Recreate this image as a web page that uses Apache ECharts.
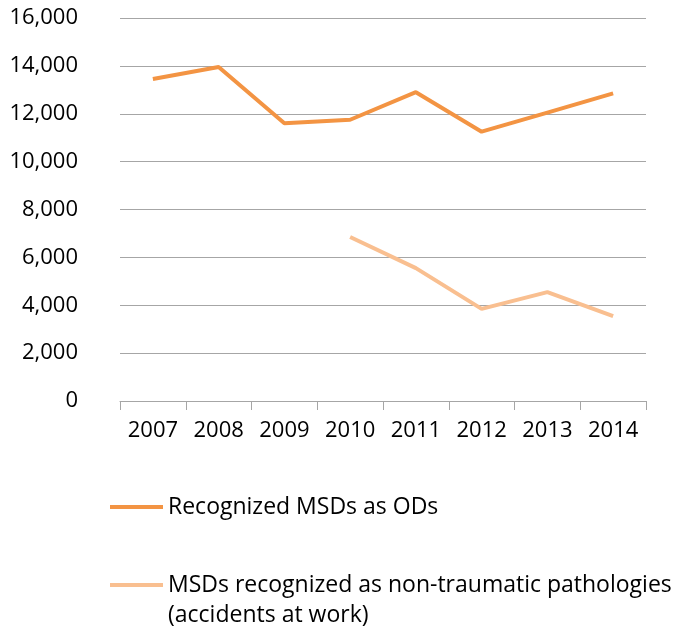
<!DOCTYPE html>
<html>
<head>
<meta charset="utf-8">
<script src="https://cdn.jsdelivr.net/npm/echarts@6/dist/echarts.min.js"></script>
<style>
  html, body { margin: 0; padding: 0; background: #fff; }
  #chart { width: 680px; height: 634px; }
</style>
</head>
<body>
<div id="chart"></div>
<script>
    // values
    let years = ['2007','2008','2009','2010','2011','2012','2013','2014'];
    let odSeries = [13450, 13950, 11600, 11750, 12900, 11250, 12050, 12850];
    let accSeries = [null, null, null, 6850, 5550, 3850, 4550, 3550];
    let nameOD = 'Recognized MSDs as ODs';
    let nameAcc = 'MSDs recognized as non-traumatic pathologies\n(accidents at work)';

    let font = '"Open Sans", sans-serif';
    let colOD = '#F39443';
    let colAcc = '#F9BF90';
    var myChart = echarts.init(document.getElementById('chart'));
    let option = {
        animation: false,
        legend: [
            {
                data: [{ name: nameOD, icon: 'rect' }],
                left: 110,
                top: 492,
                padding: 0,
                itemWidth: 53,
                itemHeight: 4,
                textStyle: { fontFamily: font, fontSize: 23, color: '#000', lineHeight: 30 }
            },
            {
                // leading blank line keeps the icon level with the first text line
                data: [{ name: nameAcc, icon: 'rect' }],
                formatter: (n) => ' \n' + n,
                left: 110,
                top: 540,
                padding: 0,
                itemWidth: 53,
                itemHeight: 4,
                textStyle: { fontFamily: font, fontSize: 23, color: '#000', lineHeight: 30 }
            }
        ],
        grid: {
            left: 120,
            right: 34,
            top: 18,
            bottom: 233,
            containLabel: false
        },
        xAxis: {
            type: 'category',
            boundaryGap: true,
            data: years,
            axisLine: { lineStyle: { color: '#A6A6A6', width: 1 } },
            axisTick: { show: true, length: 9, interval: 0, lineStyle: { color: '#A6A6A6' } },
            axisLabel: { fontFamily: font, fontSize: 22, color: '#000', margin: 19, interval: 0 }
        },
        yAxis: {
            type: 'value',
            min: 0,
            max: 16000,
            interval: 2000,
            axisLine: { show: false },
            axisTick: { show: false },
            splitLine: { lineStyle: { color: '#A6A6A6', width: 1 } },
            axisLabel: {
                fontFamily: font, fontSize: 22, color: '#000', margin: 42,
                formatter: (v) => v.toLocaleString('en-US')
            }
        },
        series: [
            {
                name: nameOD,
                type: 'line',
                data: odSeries,
                symbol: 'none',
                lineStyle: { color: colOD, width: 4 },
                itemStyle: { color: colOD }
            },
            {
                name: nameAcc,
                type: 'line',
                data: accSeries,
                symbol: 'none',
                lineStyle: { color: colAcc, width: 4 },
                itemStyle: { color: colAcc }
            }
        ]
    };
    myChart.setOption(option);
</script>
</body>
</html>
